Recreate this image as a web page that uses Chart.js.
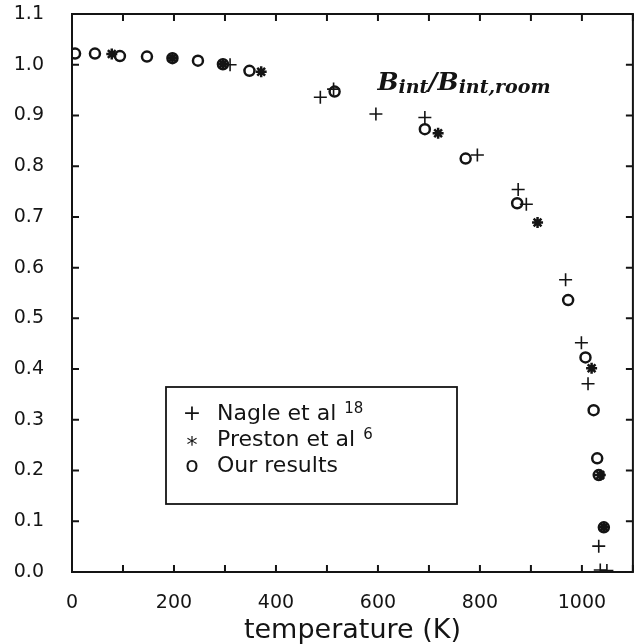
<!DOCTYPE html>
<html>
<head>
<meta charset="utf-8">
<script src="https://cdn.jsdelivr.net/npm/chart.js@4.4.1/dist/chart.umd.min.js"></script>
<style>
  html, body { margin: 0; background: #fff; overflow: hidden; }
  canvas { display: block; }
</style>
</head>
<body>
<canvas id="chart" width="641" height="644"></canvas>
<script>
// Nagle et al (+)
const nagleT = [310, 487, 513, 596, 692, 795, 875, 891, 968, 999, 1012, 1033, 1036, 1049];
const nagleB = [1.000, 0.936, 0.952, 0.903, 0.896, 0.822, 0.754, 0.725, 0.576, 0.452, 0.371, 0.051, 0.004, 0.003];

// Preston et al (*)
const prestonT = [78, 197, 296, 371, 718, 913, 1019, 1036, 1043];
const prestonB = [1.021, 1.013, 1.001, 0.986, 0.865, 0.689, 0.4015, 0.191, 0.088];

// Our results (o)
const oursT = [6, 45, 94, 147, 197, 247, 296, 348, 515, 692, 772, 873, 973, 1007, 1023, 1030, 1033, 1043];
const oursB = [1.022, 1.022, 1.017, 1.016, 1.013, 1.008, 1.001, 0.988, 0.947, 0.873, 0.815, 0.727, 0.536, 0.423, 0.319, 0.224, 0.191, 0.088];

const xTickMarks = [0, 100, 200, 300, 400, 500, 600, 700, 800, 900, 1000, 1100];
const xTickLabels = ['0', '', '200', '', '400', '', '600', '', '800', '', '1000', ''];
const yTickMarks = [0, 0.1, 0.2, 0.3, 0.4, 0.5, 0.6, 0.7, 0.8, 0.9, 1.0, 1.1];
const yTickLabels = ['0.0', '0.1', '0.2', '0.3', '0.4', '0.5', '0.6', '0.7', '0.8', '0.9', '1.0', '1.1'];

const legendItems = [
  { sym: '+', text: 'Nagle et al', sup: '18' },
  { sym: '*', text: 'Preston et al', sup: '6' },
  { sym: 'o', text: 'Our results', sup: '' }
];

const toPoints = (xs, ys) => xs.map((x, i) => ({ x: x, y: ys[i] }));
const ink = '#141414';

// frame, inward ticks, legend box and the ratio label
const framePlugin = {
  id: 'frame',
  afterDraw(chart) {
    const { ctx, chartArea: a, scales: { x, y } } = chart;
    ctx.save();
    ctx.strokeStyle = ink;
    ctx.lineWidth = 2;
    ctx.strokeRect(a.left, a.top, a.right - a.left, a.bottom - a.top);

    const len = 7;
    ctx.beginPath();
    xTickMarks.forEach(v => {
      const px = x.getPixelForValue(v);
      ctx.moveTo(px, a.bottom); ctx.lineTo(px, a.bottom - len);
      ctx.moveTo(px, a.top); ctx.lineTo(px, a.top + len);
    });
    yTickMarks.forEach(v => {
      const py = y.getPixelForValue(v);
      ctx.moveTo(a.left, py); ctx.lineTo(a.left + len, py);
      ctx.moveTo(a.right, py); ctx.lineTo(a.right - len, py);
    });
    ctx.stroke();

    // legend box
    const bx = a.left + 94, by = a.top + 373, bw = 291, bh = 117;
    ctx.lineWidth = 1.8;
    ctx.strokeRect(bx, by, bw, bh);
    ctx.fillStyle = ink;
    ctx.textBaseline = 'alphabetic';
    legendItems.forEach((item, i) => {
      const base = by + 33 + i * 26;
      ctx.font = '22px "DejaVu Sans"';
      ctx.textAlign = 'center';
      ctx.fillText(item.sym, bx + 26, base + (item.sym === '*' ? 6 : 0));
      ctx.textAlign = 'left';
      ctx.fillText(item.text, bx + 51, base);
      if (item.sup) {
        const w = ctx.measureText(item.text).width;
        ctx.font = '15px "DejaVu Sans"';
        ctx.fillText(item.sup, bx + 51 + w + 8, base - 7);
      }
    });

    // B_int / B_int,room
    let cx = x.getPixelForValue(599);
    const cy = y.getPixelForValue(0.950);
    const big = 'italic bold 25px "DejaVu Serif"';
    const small = 'italic bold 19px "DejaVu Serif"';
    const parts = [['B', big, 0], ['int', small, 3], ['/', big, 0], ['B', big, 0], ['int,room', small, 3]];
    parts.forEach(([t, f, dy]) => {
      ctx.font = f;
      ctx.fillText(t, cx, cy + dy);
      cx += ctx.measureText(t).width;
    });
    ctx.restore();
  }
};

new Chart(document.getElementById('chart'), {
  type: 'scatter',
  data: {
    datasets: [
      {
        label: 'Our results',
        data: toPoints(oursT, oursB),
        pointStyle: 'circle',
        pointRadius: 5,
        pointBorderWidth: 2.5,
        pointBorderColor: ink,
        pointBackgroundColor: 'rgba(0,0,0,0)'
      },
      {
        label: 'Preston et al',
        data: toPoints(prestonT, prestonB),
        pointStyle: 'star',
        pointRadius: 5.5,
        pointBorderWidth: 2.5,
        pointBorderColor: ink,
        pointBackgroundColor: ink
      },
      {
        label: 'Nagle et al',
        data: toPoints(nagleT, nagleB),
        pointStyle: 'cross',
        pointRadius: 6.5,
        pointBorderWidth: 1.6,
        pointBorderColor: ink,
        pointBackgroundColor: ink
      }
    ]
  },
  options: {
    responsive: false,
    animation: false,
    layout: { padding: { left: 0, right: 0, top: 14, bottom: 0 } },
    plugins: {
      legend: { display: false },
      tooltip: { enabled: false }
    },
    scales: {
      x: {
        type: 'linear',
        min: 0,
        max: 1100,
        afterFit: s => { s.height = 72; s.paddingLeft = 0; s.paddingRight = 0; },
        afterBuildTicks: s => { s.ticks = xTickMarks.map(v => ({ value: v })); },
        grid: { display: false },
        border: { display: false },
        ticks: {
          autoSkip: false,
          maxRotation: 0,
          padding: 12,
          color: ink,
          font: { family: 'DejaVu Sans', size: 19 },
          callback: (v, i) => xTickLabels[i]
        },
        title: {
          display: true,
          text: 'temperature (K)',
          color: ink,
          font: { family: 'DejaVu Sans', size: 27, lineHeight: 1 },
          padding: { top: 1, bottom: 0 }
        }
      },
      y: {
        type: 'linear',
        min: 0,
        max: 1.1,
        afterFit: s => { s.width = 72; s.paddingTop = 0; s.paddingBottom = 0; },
        afterBuildTicks: s => { s.ticks = yTickMarks.map(v => ({ value: v })); },
        grid: { display: false },
        border: { display: false },
        ticks: {
          autoSkip: false,
          padding: 20,
          color: ink,
          font: { family: 'DejaVu Sans', size: 19 },
          callback: (v, i) => yTickLabels[i]
        }
      }
    }
  },
  plugins: [framePlugin]
});
</script>
</body>
</html>
